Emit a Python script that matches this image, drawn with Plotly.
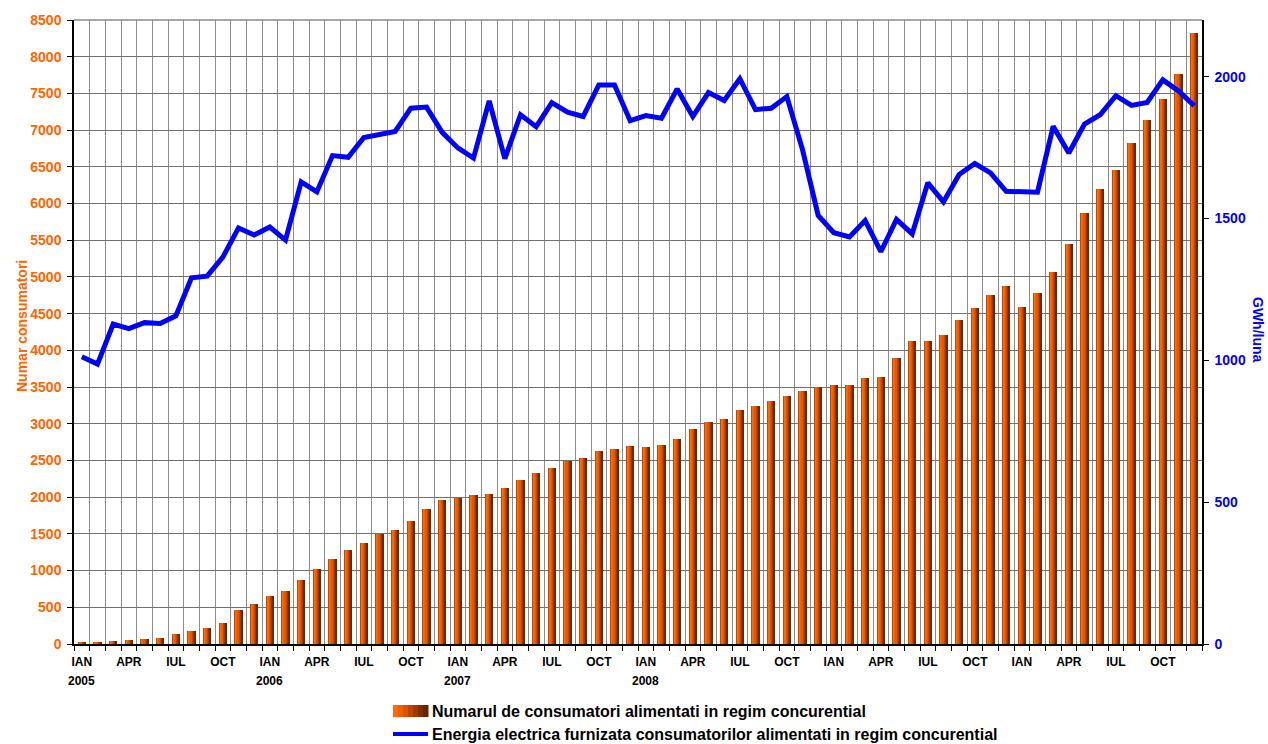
import plotly.graph_objects as go

# Monthly series, January 2005 - December 2010
consumers = [
    27, 27, 41, 55, 68, 82, 136, 177, 218, 286, 464, 545,
    655, 723, 873, 1023, 1159, 1282, 1377, 1500, 1555, 1677, 1841, 1964,
    1991, 2032, 2045, 2127, 2236, 2332, 2400, 2495, 2536, 2632, 2659, 2700,
    2686, 2713, 2795, 2932, 3027, 3068, 3191, 3245, 3314, 3382, 3450, 3504,
    3532, 3532, 3627, 3641, 3900, 4132, 4132, 4213, 4409, 4573, 4750, 4873,
    4587, 4778, 5064, 5446, 5868, 6196, 6455, 6823, 7136, 7423, 7764, 8323,
]
energy_gwh = [
    1013, 987, 1128, 1112, 1133, 1130, 1157, 1291, 1297, 1364, 1467, 1442,
    1470, 1424, 1629, 1594, 1722, 1716, 1786, 1798, 1807, 1889, 1893, 1804,
    1749, 1713, 1915, 1711, 1866, 1824, 1909, 1875, 1860, 1971, 1971, 1845,
    1863, 1854, 1957, 1860, 1944, 1916, 1993, 1884, 1889, 1930, 1743, 1511,
    1450, 1435, 1493, 1383, 1497, 1446, 1626, 1559, 1655, 1694, 1661, 1596,
    1596, 1593, 1825, 1731, 1833, 1866, 1933, 1899, 1909, 1989, 1950, 1898,
]
quarter_labels = ["IAN", "APR", "IUL", "OCT"]
year_labels = ["2005", "2006", "2007", "2008"]

series_names = [
    "Numarul de consumatori alimentati in regim concurential",
    "Energia electrica furnizata consumatorilor alimentati in regim concurential",
]

FONT = "Arial, Liberation Sans, sans-serif"
ORANGE = "#ff6600"
BLUE = "#0000ff"

n = len(consumers)
x = list(range(n))

fig = go.Figure()

# Each bar is drawn as thin vertical slices to give it a shaded, cylinder-like look
bar_shades = ["#c44a00", "#ff6a0a", "#f86300", "#e05800", "#bf4900", "#983900", "#6c2900"]
bar_width = 0.46
slice_w = bar_width / len(bar_shades)
for k, shade in enumerate(bar_shades):
    fig.add_trace(go.Bar(
        x=x, y=consumers,
        width=slice_w, offset=-bar_width / 2 + k * slice_w,
        marker=dict(color=shade, line=dict(width=0)),
        showlegend=False, hoverinfo="skip" if k else None,
        name=series_names[0],
    ))

fig.add_trace(go.Scatter(
    x=x, y=energy_gwh, yaxis="y2", mode="lines",
    line=dict(color=BLUE, width=5),
    name=series_names[1], showlegend=False,
))

# Quarter tick labels under the month centres
tickvals, ticktext = [], []
for i in range(n):
    if i % 3 == 0:
        tickvals.append(i)
        ticktext.append(quarter_labels[(i % 12) // 3])

# paper-coordinate helpers for a 1128 x 624 plot area
L, T, W, H = 74, 20, 1128, 624
def px(xp):
    return (xp - L) / W
def py(yp):
    return (T + H - yp) / H

annotations = []
for j, yr in enumerate(year_labels):
    annotations.append(dict(
        x=12 * j, xref="x", y=py(681), yref="paper", text=yr, showarrow=False,
        font=dict(family=FONT, size=12, color="black", weight="bold"),
        xanchor="center", yanchor="middle",
    ))

annotations.append(dict(
    x=px(22), y=py(326), xref="paper", yref="paper", text="Numar consumatori",
    textangle=-90, showarrow=False,
    font=dict(family=FONT, size=14, color=ORANGE, weight="bold"),
    xanchor="center", yanchor="middle",
))
annotations.append(dict(
    x=px(1258), y=py(330), xref="paper", yref="paper", text="GWh/luna",
    textangle=90, showarrow=False,
    font=dict(family=FONT, size=14, color=BLUE, weight="bold"),
    xanchor="center", yanchor="middle",
))

# Legend block under the chart
legend_rows = (711, 734)
for row, label in zip(legend_rows, series_names):
    annotations.append(dict(
        x=px(430), y=py(row), xref="paper", yref="paper", text=label,
        showarrow=False, xanchor="left", yanchor="middle",
        font=dict(family=FONT, size=16, color="black", weight="bold"),
    ))

shapes = []
sw0, sw1 = 393, 428
step = (sw1 - sw0) / len(bar_shades)
legend_shades = ["#ff6a0a", "#f06000", "#d85400", "#bc4800", "#9c3c00", "#7e3000", "#642600"]
for k, shade in enumerate(legend_shades):
    shapes.append(dict(
        type="rect", xref="paper", yref="paper",
        x0=px(sw0 + k * step), x1=px(sw0 + (k + 1) * step + 0.5),
        y0=py(legend_rows[0] + 6), y1=py(legend_rows[0] - 6),
        fillcolor=shade, line=dict(width=0), layer="above",
    ))
shapes.append(dict(
    type="line", xref="paper", yref="paper",
    x0=px(sw0), x1=px(sw1), y0=py(legend_rows[1]), y1=py(legend_rows[1]),
    line=dict(color=BLUE, width=4),
))
# grey frame line along the top of the plot area
shapes.append(dict(
    type="line", xref="paper", yref="paper", x0=0, x1=1, y0=1, y1=1,
    line=dict(color="#8a8a8a", width=1.5),
))

fig.update_layout(
    width=1268, height=744,
    margin=dict(l=L, r=1268 - L - W, t=T, b=744 - T - H),
    paper_bgcolor="white", plot_bgcolor="white",
    barmode="overlay", bargap=0,
    showlegend=False,
    font=dict(family=FONT),
    xaxis=dict(
        range=[-0.5, n - 0.5], tickmode="array", tickvals=tickvals, ticktext=ticktext,
        ticks="", showgrid=False, zeroline=False,
        showline=True, linecolor="black", linewidth=1.5,
        tickfont=dict(family=FONT, size=12, color="black", weight="bold"),
        ticklabelstandoff=6,
        minor=dict(
            tickmode="linear", tick0=-0.5, dtick=1,
            showgrid=True, gridcolor="#8c8c8c", gridwidth=1,
            ticks="outside", ticklen=5, tickcolor="black", tickwidth=1,
        ),
    ),
    yaxis=dict(
        range=[0, 8500], tickmode="linear", tick0=0, dtick=500,
        showgrid=True, gridcolor="#727272", gridwidth=1, zeroline=False,
        showline=True, linecolor="black", linewidth=1.5,
        ticks="outside", ticklen=5, tickcolor="black",
        tickfont=dict(family=FONT, size=14, color=ORANGE, weight="bold"),
        ticklabelstandoff=3,
    ),
    yaxis2=dict(
        overlaying="y", side="right", range=[0, 2200],
        tickmode="array", tickvals=[0, 500, 1000, 1500, 2000],
        showgrid=False, zeroline=False,
        showline=True, linecolor="black", linewidth=1.5,
        ticks="outside", ticklen=5, tickcolor="black",
        tickfont=dict(family=FONT, size=14, color=BLUE, weight="bold"),
        ticklabelstandoff=3,
    ),
    annotations=annotations,
    shapes=shapes,
)

fig.write_html("out.html")
